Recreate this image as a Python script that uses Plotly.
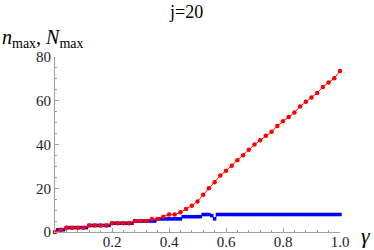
import plotly.graph_objects as go

# red series: n_max sampled every 0.02
gamma_red = [round(0.02 * i, 2) for i in range(51)]
n_red = [0, 1, 2, 2, 2, 2, 3, 3, 3, 3,
         4, 4, 4, 4, 5, 5, 5, 6, 6, 7,
         8, 8, 9, 10.5, 12, 14, 17, 20, 22.8, 25.8,
         28, 30.3, 32.8, 35.1, 37.6, 40, 42, 44, 45.8, 48.5,
         50.6, 52.6, 54.6, 57.4, 59.5, 61.5, 63.6, 66.3, 68.4, 70.3,
         73.6]

# blue series: N_max sampled every 0.01
gamma_blue = [round(0.01 * i, 2) for i in range(101)]
N_blue = ([0] + [1] * 3 + [2] * 8 + [3] * 8 + [4] * 8 + [5] * 8 + [6] * 9 + [7] * 7
          + [8] * 3 + [7.5, 6] + [8] * 44)

SERIF = "Liberation Serif"

fig = go.Figure()
fig.add_trace(go.Scatter(x=gamma_blue, y=N_blue, mode="lines+markers",
                         line=dict(color="#0000ff", width=1),
                         marker=dict(color="#0000ff", size=3.5, symbol="square"),
                         showlegend=False, cliponaxis=False))
fig.add_trace(go.Scatter(x=gamma_red, y=n_red, mode="lines+markers",
                         line=dict(color="#ff0000", width=1),
                         marker=dict(color="#ff0000", size=4.5),
                         showlegend=False, cliponaxis=False))

axcommon = dict(showgrid=False, zeroline=False, showline=True, linecolor="#a0a0a0",
                linewidth=1, ticks="inside", ticklen=4, tickcolor="#a0a0a0",
                automargin=False,
                tickfont=dict(family=SERIF, size=15, color="#222"))
fig.update_xaxes(range=[0, 1.0], tickvals=[0.2, 0.4, 0.6, 0.8, 1.0],
                 ticktext=["0.2", "0.4", "0.6", "0.8", "1.0"],
                 ticklabelstandoff=-4,
                 minor=dict(dtick=0.04, tick0=0, ticks="inside", ticklen=2, tickcolor="#a0a0a0"),
                 **axcommon)
fig.update_yaxes(range=[0, 80], tickvals=[0, 20, 40, 60, 80],
                 minor=dict(dtick=5, tick0=0, ticks="inside", ticklen=2, tickcolor="#a0a0a0"),
                 **axcommon)

fig.update_layout(
    width=374, height=250,
    margin=dict(l=55, r=34, t=57, b=18, autoexpand=False),
    font=dict(family=SERIF),
    paper_bgcolor="white", plot_bgcolor="white",
    annotations=[
        dict(text="j=20", x=(186 - 55) / 285, y=(232 - 12) / 175, xref="paper", yref="paper",
             showarrow=False, xanchor="center", yanchor="middle",
             font=dict(family=SERIF, size=18, color="black")),
        dict(text="<i>n</i><sub>max</sub>, <i>N</i><sub>max</sub>",
             x=-55 / 285, y=(232 - 38) / 175, xref="paper", yref="paper",
             showarrow=False, xanchor="left", yanchor="middle",
             font=dict(family=SERIF, size=20, color="black")),
        dict(text="<i>γ</i>", x=(359 - 55) / 285, y=-0.02, xref="paper", yref="paper",
             showarrow=False, xanchor="left", yanchor="middle",
             font=dict(family=SERIF, size=22, color="black")),
    ],
)
fig.write_html("out.html", config={"displayModeBar": False},
               post_script="document.body.style.margin='0';document.body.style.padding='0';")
